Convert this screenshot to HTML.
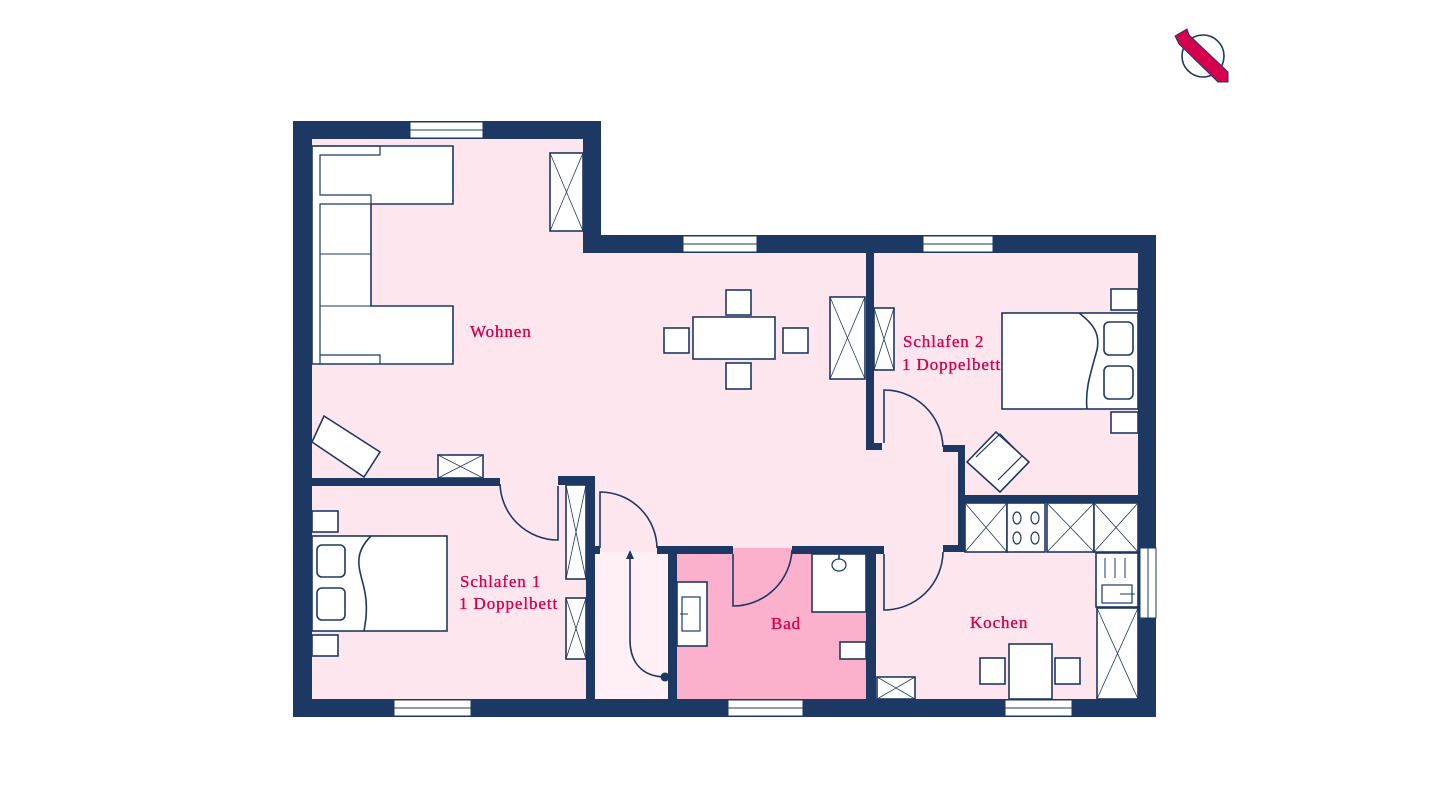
<!DOCTYPE html>
<html><head><meta charset="utf-8"><style>
html,body{margin:0;padding:0;background:#fff;width:1440px;height:810px;overflow:hidden}
svg{display:block}
text{font-family:"Liberation Serif",serif;fill:#d6004f;font-size:17px;letter-spacing:0.9px;stroke:#d6004f;stroke-width:0.35}
</style></head><body>
<svg width="1440" height="810" viewBox="0 0 1440 810" xmlns="http://www.w3.org/2000/svg">
<polygon points="312,139 583,139 583,253 1138,253 1138,699 312,699" fill="#fde6ee"/>
<rect x="595" y="552" width="73" height="147" fill="#fff0f5"/>
<rect x="677" y="548" width="189" height="151" fill="#fbb1cb"/>
<g fill="#1e3864">
<rect x="293" y="121" width="19" height="596"/>
<rect x="293" y="121" width="308" height="18"/>
<rect x="583" y="121" width="18" height="132"/>
<rect x="583" y="235" width="573" height="18"/>
<rect x="1138" y="235" width="18" height="482"/>
<rect x="293" y="699" width="863" height="18"/>
<rect x="312" y="478" width="188" height="8"/>
<rect x="558" y="476" width="37" height="9"/>
<rect x="586" y="476" width="9" height="223"/>
<rect x="595" y="546" width="5" height="8"/>
<rect x="657" y="546" width="76" height="8"/>
<rect x="792" y="546" width="92" height="8"/>
<rect x="668" y="546" width="9" height="153"/>
<rect x="866" y="546" width="10" height="153"/>
<rect x="866" y="253" width="8" height="197"/>
<rect x="866" y="443" width="16" height="7"/>
<rect x="943" y="445" width="22" height="7"/>
<rect x="958" y="445" width="7" height="107"/>
<rect x="943" y="545" width="22" height="7"/>
<rect x="958" y="495" width="180" height="8"/>
</g>
<g fill="#fff" stroke="#1e3864" stroke-width="1">
<rect x="410" y="122" width="73" height="16"/><line x1="410" y1="130" x2="483" y2="130"/>
<rect x="683" y="236" width="74" height="16"/><line x1="683" y1="244" x2="757" y2="244"/>
<rect x="923" y="236" width="70" height="16"/><line x1="923" y1="244" x2="993" y2="244"/>
<rect x="394" y="700" width="77" height="16"/><line x1="394" y1="708" x2="471" y2="708"/>
<rect x="728" y="700" width="75" height="16"/><line x1="728" y1="708" x2="803" y2="708"/>
<rect x="1005" y="700" width="67" height="16"/><line x1="1005" y1="708" x2="1072" y2="708"/>
<rect x="1140" y="548" width="16" height="70"/><line x1="1148" y1="548" x2="1148" y2="618"/>
</g>
<g fill="#fff" stroke="#1e3864" stroke-width="1.6">
<path d="M312,146 L453,146 L453,204 L371,204 L371,306 L453,306 L453,364 L312,364 Z"/>
<path d="M312,146 L380,146 L380,155 L320,155 L320,195 L371,195 L371,204 L320,204 L320,364 M320,355 L380,355 L380,364" fill="none" stroke-width="1.2"/>
<line x1="320" y1="254" x2="371" y2="254" stroke-width="1"/>
<line x1="320" y1="306" x2="371" y2="306" stroke-width="1"/>
<rect x="550" y="153" width="33" height="78"/>
<path d="M550,153 L583,231 M583,153 L550,231" stroke-width="0.8"/>
<rect x="830" y="297" width="35" height="82"/>
<path d="M830,297 L865,379 M865,297 L830,379" stroke-width="0.8"/>
<rect x="874" y="308" width="20" height="62"/>
<path d="M874,308 L894,370 M894,308 L874,370" stroke-width="0.8"/>
<rect x="693" y="317" width="82" height="42"/>
<rect x="726" y="290" width="25" height="25"/>
<rect x="726" y="363" width="25" height="26"/>
<rect x="664" y="328" width="25" height="25"/>
<rect x="783" y="328" width="25" height="25"/>
<polygon points="324,416 380,452 364,477 312,442"/>
<rect x="438" y="455" width="45" height="23"/>
<path d="M438,455 L483,478 M483,455 L438,478" stroke-width="0.8"/>
<rect x="312" y="536" width="135" height="95"/>
<path d="M371,536 C355,552 358,565 362,580 C368,600 367,615 364,631" fill="none"/>
<rect x="317" y="545" width="28" height="32" rx="5"/>
<rect x="317" y="588" width="28" height="32" rx="5"/>
<rect x="312" y="511" width="26" height="21"/>
<rect x="312" y="635" width="26" height="21"/>
<rect x="566" y="485" width="20" height="94"/>
<path d="M566,485 L586,579 M586,485 L566,579" stroke-width="0.8"/>
<rect x="566" y="598" width="20" height="61"/>
<path d="M566,598 L586,659 M586,598 L566,659" stroke-width="0.8"/>
<rect x="1002" y="313" width="136" height="96"/>
<path d="M1079,313 C1095,325 1100,335 1097,350 C1090,375 1085,390 1087,409" fill="none"/>
<rect x="1104" y="322" width="29" height="33" rx="5"/>
<rect x="1104" y="366" width="29" height="33" rx="5"/>
<rect x="1111" y="289" width="27" height="21"/>
<rect x="1111" y="412" width="27" height="21"/>
<polygon points="967,462 996,432 1029,462 1000,492"/>
<polyline points="976,457 1000,434 1022,456 998,480" fill="none" stroke-width="1.2"/>
<rect x="965" y="503" width="42" height="49"/>
<path d="M965,503 L1007,552 M1007,503 L965,552" stroke-width="0.8"/>
<rect x="1007" y="503" width="38" height="49"/>
<ellipse cx="1017" cy="518" rx="4" ry="6" stroke-width="1.2"/><ellipse cx="1035" cy="518" rx="4" ry="6" stroke-width="1.2"/>
<ellipse cx="1017" cy="538" rx="4" ry="6" stroke-width="1.2"/><ellipse cx="1035" cy="538" rx="4" ry="6" stroke-width="1.2"/>
<rect x="1047" y="503" width="47" height="49"/>
<path d="M1047,503 L1094,552 M1094,503 L1047,552" stroke-width="0.8"/>
<rect x="1094" y="503" width="44" height="49"/>
<path d="M1094,503 L1138,552 M1138,503 L1094,552" stroke-width="0.8"/>
<rect x="1096" y="553" width="42" height="54"/>
<path d="M1105,558 V578 M1115,558 V578 M1125,558 V578" stroke-width="1"/>
<rect x="1102" y="585" width="30" height="18" stroke-width="1.2"/>
<line x1="1120" y1="594" x2="1135" y2="594" stroke-width="1"/>
<rect x="1097" y="608" width="41" height="91"/>
<path d="M1097,608 L1138,699 M1138,608 L1097,699" stroke-width="0.8"/>
<rect x="1009" y="644" width="43" height="55"/>
<rect x="980" y="658" width="25" height="26"/>
<rect x="1055" y="658" width="25" height="26"/>
<rect x="877" y="677" width="38" height="22"/>
<path d="M877,677 L915,699 M915,677 L877,699" stroke-width="0.8"/>
<rect x="812" y="554" width="54" height="58"/>
<ellipse cx="839" cy="565" rx="7" ry="6" stroke-width="1.2"/>
<line x1="839" y1="554" x2="839" y2="559"/>
<rect x="840" y="642" width="26" height="17"/>
<rect x="677" y="582" width="30" height="64"/>
<rect x="682" y="597" width="18" height="34" stroke-width="1.2"/>
<line x1="680" y1="614" x2="688" y2="614" stroke-width="1"/>
</g>
<g fill="none" stroke="#1e3864" stroke-width="1.6">
<path d="M500,484 A58,58 0 0 0 558,540 L558,486"/>
<path d="M600,548 L600,492 A57,57 0 0 1 657,548"/>
<path d="M733,554 L733,606 A59,59 0 0 0 792,550"/>
<path d="M884,554 L884,610 A59,59 0 0 0 943,552"/>
<path d="M884,443 L884,390 A59,59 0 0 1 943,447"/>
<path d="M666,677 C640,677 630,660 630,640 L630,556"/>
</g>
<circle cx="665" cy="677" r="4.5" fill="#1e3864"/>
<polygon points="630,550 626,559 634,559" fill="#1e3864"/>
<text x="470" y="337">Wohnen</text>
<text x="903" y="347">Schlafen 2</text>
<text x="902" y="370">1 Doppelbett</text>
<text x="460" y="587">Schlafen 1</text>
<text x="459" y="609">1 Doppelbett</text>
<text x="771" y="629">Bad</text>
<text x="970" y="628">Kochen</text>
<circle cx="1203" cy="56" r="21" fill="none" stroke="#1e3864" stroke-width="1.6"/>
<polygon points="1175,36 1187,29 1189,35 1228,72 1228,82 1218,82 1179,44" fill="#d6004f" stroke="#1e3864" stroke-width="1"/>
</svg>
</body></html>
